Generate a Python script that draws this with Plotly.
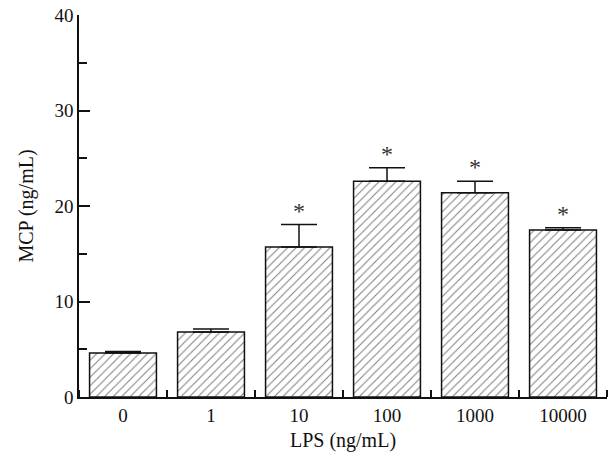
import plotly.graph_objects as go

categories = ["0", "1", "10", "100", "1000", "10000"]
means = [4.6, 6.8, 15.7, 22.6, 21.4, 17.5]
errors = [0.17, 0.33, 2.35, 1.4, 1.2, 0.22]
significant = [False, False, True, True, True, True]
y_ticks = [0, 10, 20, 30, 40]

FONT = "Liberation Serif"
INK = "#111111"

fig = go.Figure()
fig.add_trace(go.Bar(
    x=list(range(len(categories))),
    y=means,
    width=0.76,
    marker=dict(
        color="white",
        line=dict(color=INK, width=1.5),
        pattern=dict(shape="/", fgcolor="#000000", bgcolor="white", size=6, solidity=0.17),
    ),
    error_y=dict(
        type="data",
        symmetric=False,
        array=errors,
        arrayminus=[0] * len(errors),
        color=INK,
        thickness=1.5,
        width=18,
    ),
    showlegend=False,
))

for i, (m, e, s) in enumerate(zip(means, errors, significant)):
    if s:
        fig.add_annotation(
            x=i, y=m + e, xref="x", yref="y", text="*", showarrow=False,
            yanchor="bottom", yshift=-1,
            font=dict(family=FONT, size=24, color="#333333"),
        )

fig.update_layout(
    width=610, height=460,
    margin=dict(l=79, r=3, t=15, b=63),
    paper_bgcolor="white", plot_bgcolor="white",
    font=dict(family=FONT, size=19, color=INK),
)
fig.update_xaxes(
    tickmode="array",
    tickvals=list(range(len(categories))),
    ticktext=categories,
    range=[-0.5, 5.5],
    showline=True, linecolor=INK, linewidth=1.5,
    ticks="",
    minor=dict(ticks="inside", ticklen=7, tickwidth=1.5, tickcolor=INK, dtick=1, tick0=0.5, showgrid=False),
    showgrid=False, zeroline=False,
    tickfont=dict(family=FONT, size=19),
    title=dict(text="LPS (ng/mL)", font=dict(family=FONT, size=20), standoff=8),
)
fig.update_yaxes(
    range=[0, 40],
    tickmode="array", tickvals=y_ticks,
    showline=True, linecolor=INK, linewidth=1.5,
    ticks="inside", ticklen=11, tickwidth=1.5, tickcolor=INK,
    minor=dict(ticks="inside", ticklen=8, tickwidth=1.5, tickcolor=INK, dtick=5, tick0=0, showgrid=False),
    showgrid=False, zeroline=False,
    tickfont=dict(family=FONT, size=19),
    title=dict(text="MCP (ng/mL)", font=dict(family=FONT, size=20), standoff=15),
)

fig.write_html(
    "out.html",
    config={"displayModeBar": False},
    post_script="document.body.style.margin='0';",
)
